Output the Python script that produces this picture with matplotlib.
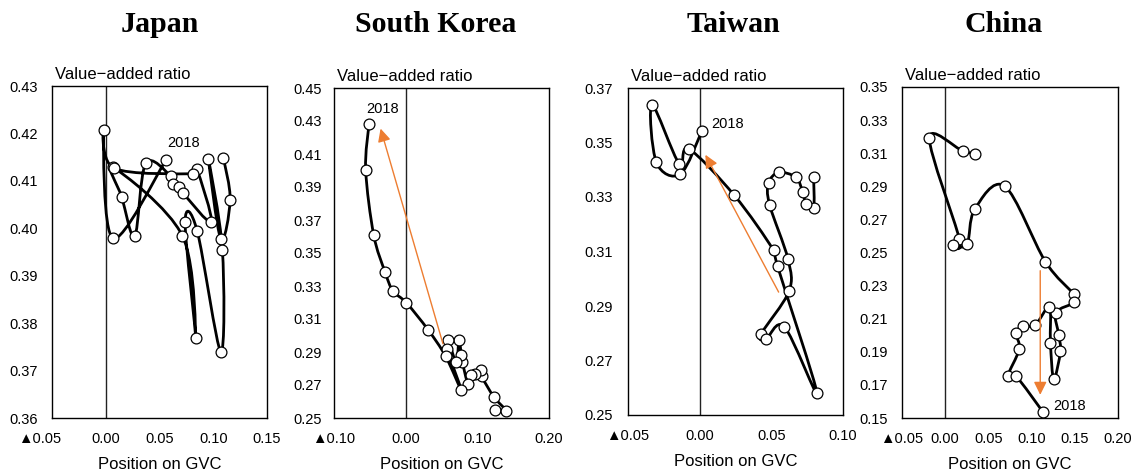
import numpy as np
import matplotlib
matplotlib.use("Agg")
import matplotlib.pyplot as plt
from matplotlib.path import Path
from matplotlib.patches import PathPatch
from matplotlib.transforms import ScaledTranslation

plt.rcParams['font.family'] = ['Liberation Sans', 'DejaVu Sans']

# Data: position on GVC (x) vs value-added ratio (y), in year order, last point = 2018.
japanX = [0.1095, 0.1157, 0.1070, 0.0955, 0.1085, 0.1070, 0.0850, 0.0738, 0.0837, 0.0713, 0.0068, 0.0149, 0.0270,
          0.0372, 0.0605, 0.0623, 0.0679, 0.0716, 0.0980, 0.0846, 0.0815, 0.0075, -0.0020, 0.0068, 0.0558]
japanY = [0.4148, 0.4060, 0.3977, 0.4146, 0.3955, 0.3740, 0.3995, 0.4013, 0.3769, 0.3984, 0.4129, 0.4066, 0.3984,
          0.4137, 0.4110, 0.4094, 0.4086, 0.4075, 0.4014, 0.4126, 0.4115, 0.4127, 0.4207, 0.3979, 0.4143]

koreaX = [0.1242, 0.1405, 0.1232, 0.1060, 0.1056, 0.0972, 0.0916, 0.0869, 0.0791, 0.0777, 0.0744, 0.0707,
          0.0591, 0.0576, 0.0777, 0.0558, 0.0312, 0.0009, -0.0177, -0.0288, -0.0447, -0.0558, -0.0512]
koreaY = [0.2547, 0.2541, 0.2627, 0.2753, 0.2793, 0.2764, 0.2758, 0.2708, 0.2840, 0.2880, 0.2975, 0.2839,
          0.2975, 0.2921, 0.2668, 0.2874, 0.3035, 0.3199, 0.3270, 0.3385, 0.3611, 0.4005, 0.4280]

taiwanX = [0.0795, 0.0795, 0.0742, 0.0719, 0.0672, 0.0551, 0.0481, 0.0488, 0.0616, 0.0623, 0.0430, 0.0463,
           0.0591, 0.0819, 0.0544, 0.0516, 0.0242, -0.0077, -0.0142, -0.0332, -0.0302, -0.0135, 0.0017]
taiwanY = [0.3372, 0.3259, 0.3275, 0.3318, 0.3372, 0.3390, 0.3351, 0.3271, 0.3072, 0.2954, 0.2798, 0.2778,
           0.2824, 0.2580, 0.3045, 0.3104, 0.3306, 0.3477, 0.3421, 0.3639, 0.3427, 0.3384, 0.3544]

chinaX = [0.0349, 0.0202, -0.0183, 0.0164, 0.0090, 0.0252, 0.0341, 0.0688, 0.1159, 0.1487, 0.1495, 0.1283,
          0.1314, 0.1333, 0.1256, 0.1218, 0.1206, 0.1044, 0.0901, 0.0819, 0.0857, 0.0722, 0.0822, 0.1132]
chinaY = [0.3098, 0.3114, 0.3192, 0.2581, 0.2545, 0.2551, 0.2760, 0.2901, 0.2445, 0.2248, 0.2198, 0.2137,
          0.2003, 0.1902, 0.1735, 0.1952, 0.2169, 0.2063, 0.2053, 0.2013, 0.1916, 0.1751, 0.1751, 0.1536]

# Orange trend arrows (tail -> head) in data units
koreaArrow = [(0.052, 0.295), (-0.035, 0.4254)]
taiwanArrow = [(0.0551, 0.2951), (0.004, 0.3455)]
chinaArrow = [(0.110, 0.239), (0.110, 0.164)]

countries = ['Japan', 'South Korea', 'Taiwan', 'China']
xTicks = [[-0.05, 0.00, 0.05, 0.10, 0.15],
          [-0.10, 0.00, 0.10, 0.20],
          [-0.05, 0.00, 0.05, 0.10],
          [-0.05, 0.00, 0.05, 0.10, 0.15, 0.20]]
yTicks = [[0.36, 0.37, 0.38, 0.39, 0.40, 0.41, 0.42, 0.43],
          [0.25, 0.27, 0.29, 0.31, 0.33, 0.35, 0.37, 0.39, 0.41, 0.43, 0.45],
          [0.25, 0.27, 0.29, 0.31, 0.33, 0.35, 0.37],
          [0.15, 0.17, 0.19, 0.21, 0.23, 0.25, 0.27, 0.29, 0.31, 0.33, 0.35]]

seriesX = [japanX, koreaX, taiwanX, chinaX]
seriesY = [japanY, koreaY, taiwanY, chinaY]
arrows = [None, koreaArrow, taiwanArrow, chinaArrow]

# Layout in pixels: (left, right, top, bottom) of each plot box, title centre, tick pads
W, H = 1133, 472
boxes = [(52, 267, 86, 418), (334, 549, 88, 418), (628, 843, 88, 415), (902, 1118, 87, 418)]
titleX = [160, 436, 733, 1004]
yPads = [10, 8.5, 11, 10]
labelOffsets = [(12.7, 12.8), (9.6, 11.3), (18.3, 4.8), (18.9, 4.0)]
orange = '#ED7D31'


def tickText(v):
    # Negative values are written with a black triangle, as in Japanese reports
    return ('▲' if v < -1e-9 else '') + f'{abs(v):.2f}'


def smoothPath(xs, ys):
    # Excel-style smoothed line: cubic Bezier segments with Catmull-Rom control points
    pts = np.column_stack([xs, ys])
    n = len(pts)
    verts, codes = [pts[0]], [Path.MOVETO]
    for i in range(n - 1):
        p0 = pts[i - 1] if i > 0 else pts[i]
        p1, p2 = pts[i], pts[i + 1]
        p3 = pts[i + 2] if i + 2 < n else pts[i + 1]
        verts += [p1 + (p2 - p0) / 6, p2 - (p3 - p1) / 6, p2]
        codes += [Path.CURVE4] * 3
    return Path(verts, codes)


fig = plt.figure(figsize=(W / 100, H / 100), dpi=100)

for k in range(4):
    left, right, top, bottom = boxes[k]
    ax = fig.add_axes([left / W, 1 - bottom / H, (right - left) / W, (bottom - top) / H])

    xs, ys = seriesX[k], seriesY[k]
    ax.set_xlim(xTicks[k][0], xTicks[k][-1])
    ax.set_ylim(yTicks[k][0], yTicks[k][-1])

    # vertical zero line
    ax.axvline(0, color='#222222', lw=1.0, zorder=1)

    ax.add_patch(PathPatch(smoothPath(xs, ys), facecolor='none', edgecolor='black',
                           lw=2.0, joinstyle='round', capstyle='round', zorder=2))
    ax.plot(xs, ys, 'o', ms=7.8, mfc='white', mec='black', mew=0.9, zorder=3)

    if arrows[k] is not None:
        tail, head = arrows[k]
        ax.annotate('', xy=head, xytext=tail,
                    arrowprops=dict(arrowstyle='-|>,head_length=0.65,head_width=0.32', color=orange,
                                    lw=1.0, shrinkA=0, shrinkB=0, mutation_scale=12), zorder=4)

    ax.annotate('2018', xy=(xs[-1], ys[-1]), xytext=labelOffsets[k], textcoords='offset points',
                ha='center', va='center', fontsize=10.5)

    ax.set_xticks(xTicks[k], [tickText(v) for v in xTicks[k]])
    ax.set_yticks(yTicks[k], [tickText(v) for v in yTicks[k]])
    ax.tick_params(axis='x', length=0, pad=10, labelsize=10.5)
    ax.tick_params(axis='y', length=0, pad=yPads[k], labelsize=10.5)
    for s in ax.spines.values():
        s.set_linewidth(1.0)
        s.set_color('black')

    ax.set_xlabel('Position on GVC', fontsize=12, labelpad=8)
    ax.text(0.015, 1.022, 'Value\u2212added ratio', transform=ax.transAxes, ha='left', va='baseline',
            fontsize=12)

    fig.text(titleX[k] / W, 1 - 25 / H, countries[k], ha='center', va='center',
             fontsize=21.5, fontweight='bold', family='Liberation Serif')

    # Japan's first x label sits a little to the left in the original
    if k == 0:
        lab = ax.get_xticklabels()[0]
        lab.set_transform(lab.get_transform() + ScaledTranslation(-12 / 100, 0, fig.dpi_scale_trans))

fig.savefig('out.png', dpi=100)
